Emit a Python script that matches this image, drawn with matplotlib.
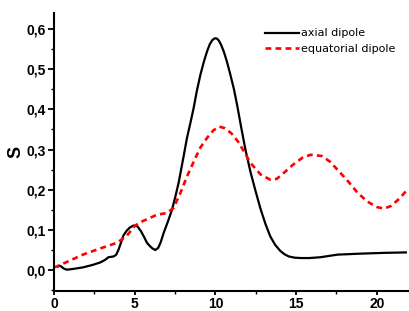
import matplotlib
matplotlib.use("Agg")
import matplotlib.pyplot as plt
from matplotlib.ticker import MultipleLocator, FuncFormatter

plt.rcParams['font.family'] = ['Liberation Sans', 'DejaVu Sans']

axial_x = [0.25, 0.33, 0.45, 0.6, 0.79, 1.2, 1.82, 2.4, 2.86, 3.15, 3.37, 3.69, 3.85, 4.0, 4.15, 4.3, 4.5,
           4.7, 4.93, 5.17, 5.4, 5.6, 5.76, 5.96, 6.1, 6.27, 6.45, 6.6, 6.79, 7.05, 7.31, 7.52, 7.72, 8.03,
           8.24, 8.45, 8.65, 8.85, 9.07, 9.28, 9.48, 9.65, 9.8, 9.92, 10.0, 10.1, 10.22, 10.35, 10.52, 10.72,
           10.93, 11.15, 11.35, 11.6, 11.86, 12.17, 12.5, 12.8, 13.1, 13.4, 13.7, 14.04, 14.3, 14.55, 14.9,
           15.3, 15.8, 16.5, 17.56, 19.0, 20.5, 21.8]
axial_y = [0.009, 0.011, 0.009, 0.004, 0.001, 0.003, 0.007, 0.013, 0.019, 0.025, 0.032, 0.034, 0.038, 0.051,
           0.068, 0.086, 0.098, 0.106, 0.111, 0.109, 0.096, 0.081, 0.068, 0.059, 0.054, 0.050, 0.055, 0.068,
           0.092, 0.120, 0.150, 0.183, 0.217, 0.283, 0.329, 0.366, 0.403, 0.446, 0.486, 0.518, 0.544, 0.562,
           0.572, 0.576, 0.577, 0.576, 0.571, 0.561, 0.544, 0.518, 0.486, 0.450, 0.410, 0.355, 0.300, 0.245,
           0.195, 0.152, 0.115, 0.084, 0.063, 0.047, 0.039, 0.034, 0.031, 0.030, 0.030, 0.032, 0.0385, 0.041,
           0.043, 0.044]

equat_x = [0.0, 0.17, 1.0, 1.82, 2.8, 3.9, 4.5, 5.03, 5.5, 5.96, 6.38, 7.0, 7.41, 7.83, 8.24, 8.76, 9.07,
           9.5, 9.88, 10.25, 10.6, 11.0, 11.4, 11.76, 12.17, 12.8, 13.4, 13.8, 14.24, 14.8, 15.4, 15.9,
           16.6, 17.1, 17.56, 18.2, 18.8, 19.4, 20.0, 20.45, 20.9, 21.4, 21.8]
equat_y = [0.007, 0.009, 0.024, 0.039, 0.053, 0.068, 0.085, 0.111, 0.122, 0.130, 0.138, 0.142, 0.155,
           0.192, 0.233, 0.279, 0.305, 0.330, 0.348, 0.357, 0.353, 0.340, 0.320, 0.296, 0.267, 0.238,
           0.225, 0.227, 0.242, 0.262, 0.280, 0.287, 0.284, 0.270, 0.250, 0.222, 0.193, 0.171, 0.157,
           0.153, 0.160, 0.178, 0.196]

fig = plt.figure(figsize=(4.1, 3.11), dpi=100)
ax = fig.add_axes([0.1317, 0.0643, 0.868, 0.894])
ax.plot(axial_x, axial_y, color='black', lw=1.6, label='axial dipole', solid_joinstyle='round')
ax.plot(equat_x, equat_y, color='red', lw=1.9, ls=(0, (2.2, 1.6)), label='equatorial dipole')

ax.set_xlim(0, 22.05)
ax.set_ylim(-0.052, 0.64)
for s in ['top', 'right']:
    ax.spines[s].set_visible(False)
for s in ['left', 'bottom']:
    ax.spines[s].set_linewidth(1.5)
ax.xaxis.set_major_locator(MultipleLocator(5))
ax.xaxis.set_minor_locator(MultipleLocator(2.5))
ax.yaxis.set_major_locator(MultipleLocator(0.1))
ax.yaxis.set_minor_locator(MultipleLocator(0.05))
ax.yaxis.set_major_formatter(FuncFormatter(lambda v, p: f"{v:.1f}".replace('.', ',').replace('-0,0', '0,0')))
ax.tick_params(which='major', direction='out', length=4, width=1.3, labelsize=10)
ax.tick_params(axis='x', which='major', length=3, pad=1)
ax.tick_params(axis='y', which='major', pad=2)
ax.tick_params(which='minor', direction='out', length=2.5, width=1.0)
for lab in ax.get_xticklabels() + ax.get_yticklabels():
    lab.set_fontweight('bold')
ax.set_ylabel('S', fontsize=13, fontweight='bold', labelpad=1)

fig.legend(*ax.get_legend_handles_labels(), loc='upper left', bbox_to_anchor=(265 / 410, 1 - 28.5 / 311),
           bbox_transform=fig.transFigure, frameon=False, prop={'family': 'DejaVu Sans', 'size': 8},
           handlelength=3.1, handletextpad=0.1, labelspacing=0.45, borderpad=0, borderaxespad=0)

fig.savefig('out.png', dpi=100)
